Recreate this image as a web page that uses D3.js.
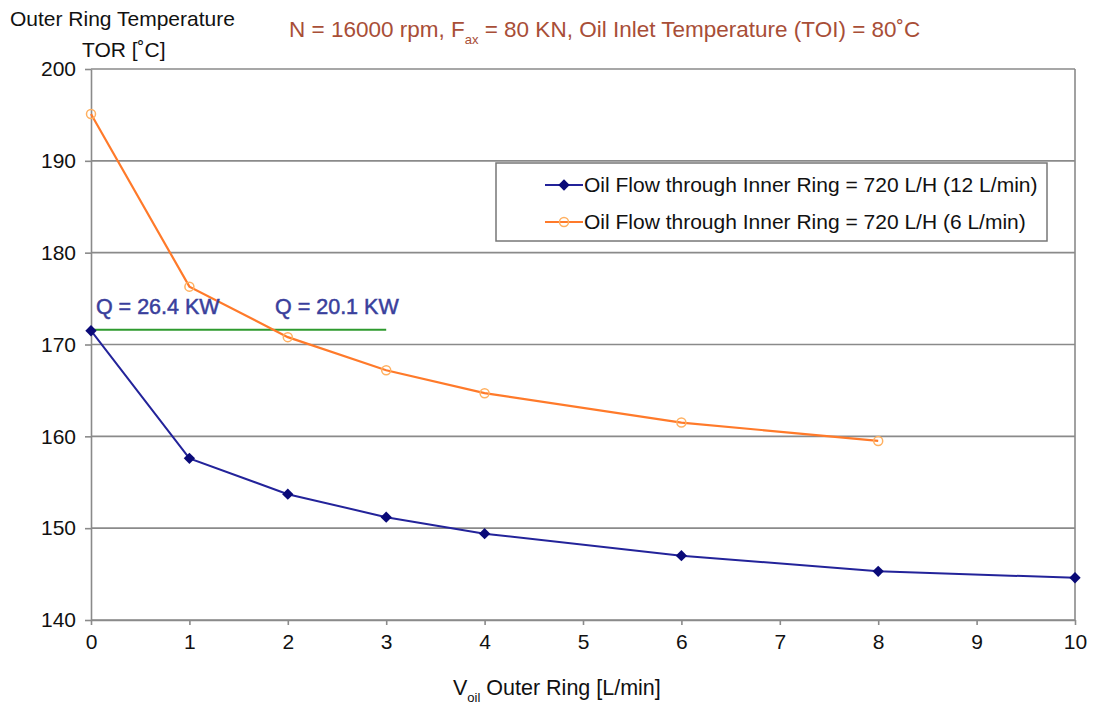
<!DOCTYPE html>
<html><head><meta charset="utf-8">
<script src="https://cdn.jsdelivr.net/npm/d3@7"></script>
<style>body{margin:0;background:#fff}svg text{font-family:Arial,"Liberation Sans",sans-serif}</style>
</head><body><svg id="c" width="1101" height="704"></svg>
<script>
const xValues = [0, 1, 2, 3, 4, 6, 8, 10];
const series12 = [171.5, 157.6, 153.7, 151.2, 149.4, 147.0, 145.3, 144.6];
const xValues6 = [0, 1, 2, 3, 4, 6, 8];
const series6 = [195.1, 176.3, 170.8, 167.2, 164.7, 161.5, 159.5];
const xTicks = [0,1,2,3,4,5,6,7,8,9,10];
const yTicks = [140,150,160,170,180,190,200];
const legendLabels = ["Oil Flow through Inner Ring = 720 L/H (12 L/min)", "Oil Flow through Inner Ring = 720 L/H (6 L/min)"];
const refLine = {x0: 0, x1: 3, y: 171.6};
const annotations = [{x: 0.05, y: 173.3, text: "Q = 26.4 KW"}, {x: 1.87, y: 173.3, text: "Q = 20.1 KW"}];

const svg = d3.select("#c");
const m = {l: 91, r: 1075, t: 69, b: 620};
const x = d3.scaleLinear().domain([0,10]).range([m.l, m.r]);
const y = d3.scaleLinear().domain([140,200]).range([m.b, m.t]);

// grid
svg.append("g").selectAll("line").data(yTicks).join("line")
  .attr("x1", m.l).attr("x2", m.r).attr("y1", d=>y(d)).attr("y2", d=>y(d))
  .attr("stroke", "#8a8a8a").attr("stroke-width", 1.6);
// frame right
svg.append("line").attr("x1", m.r).attr("x2", m.r).attr("y1", m.t).attr("y2", m.b).attr("stroke", "#8a8a8a").attr("stroke-width", 1.6);

const xa = svg.append("g").attr("transform", `translate(0,${m.b})`)
  .call(d3.axisBottom(x).tickValues(xTicks).tickSize(5).tickSizeOuter(0).tickPadding(9).tickFormat(d3.format("d")));
const ya = svg.append("g").attr("transform", `translate(${m.l},0)`)
  .call(d3.axisLeft(y).tickValues(yTicks).tickSize(6).tickSizeOuter(0).tickPadding(9).tickFormat(d3.format("d")));
[xa, ya].forEach(a => {
  a.selectAll("path,line").attr("stroke", "#8a8a8a").attr("stroke-width", 1.6);
  a.selectAll("text").attr("font-size", 21).attr("fill", "#111");
});

// reference line
svg.append("line").attr("x1", x(refLine.x0)).attr("x2", x(refLine.x1)).attr("y1", y(refLine.y)).attr("y2", y(refLine.y))
  .attr("stroke", "#2e9a2e").attr("stroke-width", 2);

const line = d3.line().x(d=>x(d[0])).y(d=>y(d[1]));
const d6 = xValues6.map((v,i)=>[v, series6[i]]);
const d12 = xValues.map((v,i)=>[v, series12[i]]);

svg.append("path").datum(d6).attr("d", line).attr("fill","none").attr("stroke","#ff7a2a").attr("stroke-width",2.2);
svg.append("g").selectAll("circle").data(d6).join("circle")
  .attr("cx", d=>x(d[0])).attr("cy", d=>y(d[1])).attr("r", 4.5)
  .attr("fill","none").attr("stroke","#ffb060").attr("stroke-width",1.5);

svg.append("path").datum(d12).attr("d", line).attr("fill","none").attr("stroke","#23239a").attr("stroke-width",2);
const diamond = d3.symbol().type(d3.symbolSquare).size(64);
svg.append("g").selectAll("path").data(d12).join("path")
  .attr("transform", d=>`translate(${x(d[0])},${y(d[1])}) rotate(45)`).attr("d", diamond).attr("fill","#0a0a78");

// annotations
svg.append("g").selectAll("text").data(annotations).join("text")
  .attr("x", d=>x(d.x)).attr("y", d=>y(d.y)).attr("font-size", 21.5).attr("fill", "#3a3f9c")
  .attr("stroke", "#3a3f9c").attr("stroke-width", 0.5)
  .text(d=>d.text);

// legend
const lg = svg.append("g");
lg.append("rect").attr("x", 496).attr("y", 163).attr("width", 551).attr("height", 78)
  .attr("fill","#fff").attr("stroke","#777").attr("stroke-width",1.5);
const cols = ["#23239a", "#ff7a2a"];
legendLabels.forEach((t,i)=>{
  const yy = 185 + i*37;
  lg.append("line").attr("x1",545).attr("x2",583).attr("y1",yy).attr("y2",yy).attr("stroke",cols[i]).attr("stroke-width",2);
  if (i===0) lg.append("path").attr("transform",`translate(564,${yy}) rotate(45)`).attr("d",diamond).attr("fill","#0a0a78");
  else lg.append("circle").attr("cx",564).attr("cy",yy).attr("r",4.5).attr("fill","none").attr("stroke","#ffb060").attr("stroke-width",1.5);
  lg.append("text").attr("x",584).attr("y",yy+7).attr("font-size",21).attr("fill","#111").text(t);
});

// titles
svg.append("text").attr("x", 10).attr("y", 26).attr("font-size", 21).attr("fill","#111").text("Outer Ring Temperature");
svg.append("text").attr("x", 82).attr("y", 57).attr("font-size", 21).attr("fill","#111").text("TOR [˚C]");

const tt = svg.append("text").attr("x", 289).attr("y", 37).attr("font-size", 22.5).attr("fill","#a84e37");
tt.append("tspan").text("N = 16000 rpm, F");
tt.append("tspan").attr("font-size", 13).attr("dy", 7).text("ax");
tt.append("tspan").attr("dy", -7).text(" = 80 KN, Oil Inlet Temperature (TOI) = 80˚C");

const xt = svg.append("text").attr("x", 453).attr("y", 695).attr("font-size", 21.5).attr("fill","#111");
xt.append("tspan").text("V");
xt.append("tspan").attr("font-size", 13).attr("dy", 7).text("oil");
xt.append("tspan").attr("dy", -7).text(" Outer Ring [L/min]");
</script></body></html>
